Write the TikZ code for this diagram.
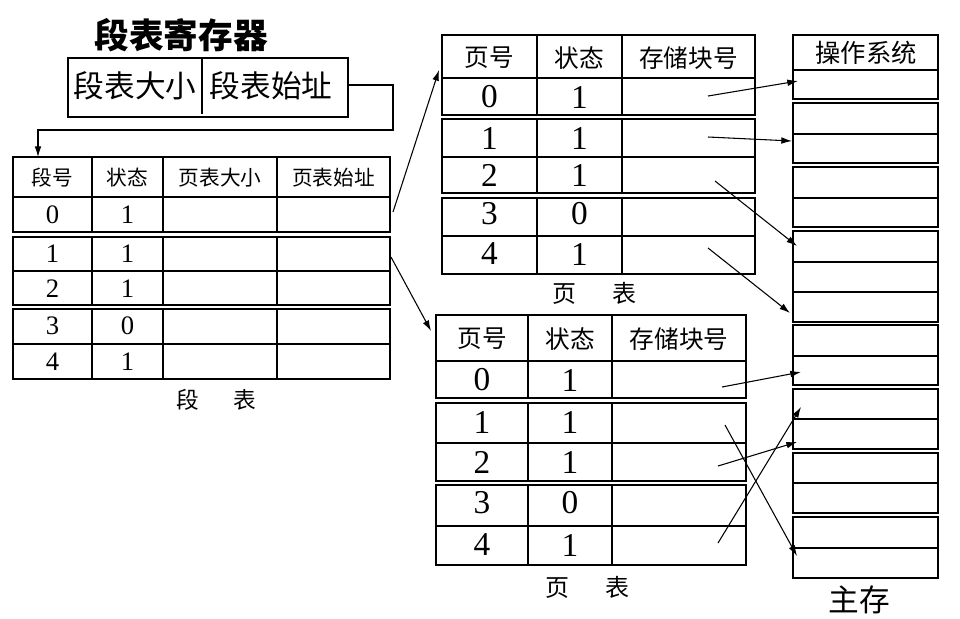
\documentclass[tikz,border=0pt]{standalone}
\usepackage{fontspec}
\setmainfont{Liberation Serif}
\newfontfamily\cjk{Noto Sans CJK SC}
\usetikzlibrary{arrows.meta}
\begin{document}
\begin{tikzpicture}[x=0.75pt,y=-0.75pt,
  tline/.style={line width=1.9pt},
  thin/.style={line width=0.8pt},
  arr/.style={line width=0.8pt,-{Latex[length=8pt,width=5pt]}},
  segh/.style={font=\cjk\fontsize{15.5pt}{16pt}\selectfont,inner sep=0pt},
  segd/.style={font=\fontsize{20pt}{22pt}\selectfont,inner sep=0pt},
  pgh/.style={font=\cjk\fontsize{18.5pt}{19pt}\selectfont,inner sep=0pt},
  pgd/.style={font=\fontsize{25pt}{27pt}\selectfont,inner sep=0pt},
  lbl/.style={font=\cjk\fontsize{17pt}{18pt}\selectfont,inner sep=0pt},
]
\useasboundingbox (0,0) rectangle (960,618);

% ---------- segment table register ----------
\node[font=\cjk\bfseries\fontsize{26pt}{28pt}\selectfont,inner sep=0pt] (title) at (181,35) {段表寄存器};
\draw[thin] (68,58) rectangle (348,117);
\draw[thin] (202,58) -- (202,114);
\node[font=\cjk\fontsize{23pt}{24pt}\selectfont,inner sep=0pt] (regsize) at (135,86) {段表大小};
\node[font=\cjk\fontsize{23pt}{24pt}\selectfont,inner sep=0pt] (regaddr) at (271,86) {段表始址};
\coordinate (regout) at (348,85);
\coordinate (segin) at (38,157);

% ---------- segment table ----------
\foreach \t/\b/\m in {157/232/197, 237/305/271, 309/379/344}{
  \draw[tline] (13,\t) rectangle (390,\b);
  \draw[tline] (13,\m) -- (390,\m);
  \foreach \x in {92,163,277} \draw[tline] (\x,\t) -- (\x,\b);
}
\node[segh] (sh1) at (52.5,178) {段号};
\node[segh] (sh2) at (127.5,178) {状态};
\node[segh] (sh3) at (220,178) {页表大小};
\node[segh] (sh4) at (333.5,178) {页表始址};
\foreach \r/\y/\s in {0/215/1, 1/254/1, 2/289/1, 3/326/0, 4/362/1}{
  \node[segd] (sn\r) at (52.5,\y) {\r};
  \node[segd] (ss\r) at (127.5,\y) {\s};
}
\node[lbl] (seglbl) at (216,400) {段\hspace{1.5em}表};

% ---------- page table 1 ----------
\foreach \t/\b/\m in {35/115/78, 119/193/157, 198/274/236}{
  \draw[tline] (442,\t) rectangle (755,\b);
  \draw[tline] (442,\m) -- (755,\m);
  \foreach \x in {537,622} \draw[tline] (\x,\t) -- (\x,\b);
}
\node[pgh] (ah1) at (489.5,58) {页号};
\node[pgh] (ah2) at (579.5,58) {状态};
\node[pgh] (ah3) at (688.5,58) {存储块号};
\foreach \r/\y/\s in {0/97/1, 1/138/1, 2/175/1, 3/214/0, 4/254/1}{
  \node[pgd] (an\r) at (489.5,\y) {\r};
  \node[pgd] (as\r) at (579.5,\y) {\s};
}
\node[lbl,font=\cjk\fontsize{18pt}{19pt}\selectfont] (albl) at (594,293) {页\hspace{1.5em}表};

% ---------- page table 2 ----------
\foreach \t/\b/\m in {315/398/361, 403/481/443, 485/565/526}{
  \draw[tline] (436,\t) rectangle (746,\b);
  \draw[tline] (436,\m) -- (746,\m);
  \foreach \x in {528,612} \draw[tline] (\x,\t) -- (\x,\b);
}
\node[pgh] (bh1) at (482,339) {页号};
\node[pgh] (bh2) at (570,339) {状态};
\node[pgh] (bh3) at (679,339) {存储块号};
\foreach \r/\y/\s in {0/380/1, 1/422/1, 2/462/1, 3/503/0, 4/545/1}{
  \node[pgd] (bn\r) at (482,\y) {\r};
  \node[pgd] (bs\r) at (570,\y) {\s};
}
\node[lbl,font=\cjk\fontsize{18pt}{19pt}\selectfont] (blbl) at (587,587) {页\hspace{1.5em}表};

% ---------- main memory ----------
\foreach \t/\b/\ms in {35/99/{70}, 103/163/{134}, 167/227/{198}, 231/322/{262,292},
                       325/385/{356}, 389/449/{419}, 453/513/{483}, 517/578/{548}}{
  \draw[tline] (793,\t) rectangle (938,\b);
  \foreach \m in \ms \draw[tline] (793,\m) -- (938,\m);
}
\node[font=\cjk\fontsize{19pt}{20pt}\selectfont,inner sep=0pt] (os) at (866,53) {操作系统};
\node[font=\cjk\fontsize{23pt}{24pt}\selectfont,inner sep=0pt] (mem) at (859,600) {主存};

% ---------- coordinates for connectors ----------
\coordinate (seg0) at (393,212);
\coordinate (seg1) at (391,257);
\coordinate (pt1in) at (439,70);
\coordinate (pt2in) at (431,331);

\coordinate (a0) at (708,96);   \coordinate (m0) at (798,81);
\coordinate (a1) at (708,137);  \coordinate (m1) at (792,141);
\coordinate (a2) at (715,181);  \coordinate (m2) at (797,246);
\coordinate (a4) at (708,248);  \coordinate (m4) at (790,313);

\coordinate (b0) at (722,387);  \coordinate (n0) at (801,372);
\coordinate (b1) at (725,425);  \coordinate (n1) at (797,556);
\coordinate (b2) at (718,466);  \coordinate (n2) at (797,442);
\coordinate (b4) at (718,543);  \coordinate (n4) at (801,407);

% ---------- connectors ----------
\draw[arr] (regout) -- (393,85) -- (393,130) -- (38,130) -- (segin);
\draw[arr] (seg0) -- (pt1in);
\draw[arr] (seg1) -- (pt2in);
\draw[arr] (a0) -- (m0);
\draw[arr] (a1) -- (m1);
\draw[arr] (a2) -- (m2);
\draw[arr] (a4) -- (m4);
\draw[arr] (b0) -- (n0);
\draw[arr] (b1) -- (n1);
\draw[arr] (b2) -- (n2);
\draw[arr] (b4) -- (n4);
\end{tikzpicture}
\end{document}
